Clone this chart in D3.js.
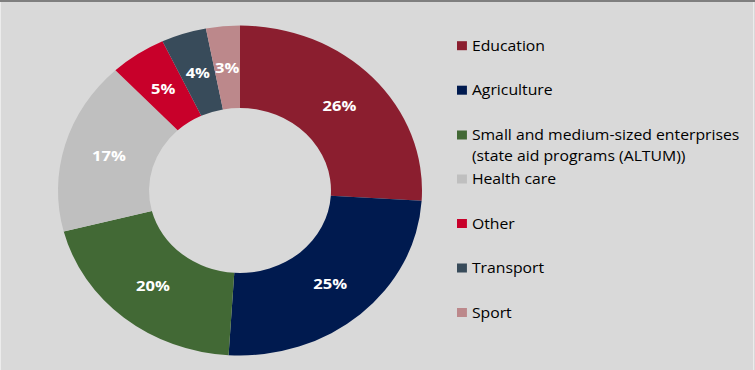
<!DOCTYPE html>
<html>
<head>
<meta charset="utf-8">
<script src="https://cdn.jsdelivr.net/npm/d3@7"></script>
<style>
  html, body { margin: 0; padding: 0; background: #d9d9d9; }
  svg { display: block; }
</style>
</head>
<body>
<svg id="chart" width="755" height="370"></svg>
<script>
// Sector shares, clockwise from 12 o'clock
const categories = ["Education", "Agriculture", "Small and medium-sized enterprises (state aid programs (ALTUM))", "Health care", "Other", "Transport", "Sport"];
const legendLines = [["Education"], ["Agriculture"], ["Small and medium-sized enterprises", "(state aid programs (ALTUM))"], ["Health care"], ["Other"], ["Transport"], ["Sport"]];
const shares = [26, 25, 20, 17, 5, 4, 3];
const colors = ["#8b1e2f", "#001a4f", "#426935", "#bfbfbf", "#c8002a", "#384b5a", "#bc888b"];

const W = 755, H = 370;
const svg = d3.select("#chart");
const stretchX = 182 / 165;
const font = "'Open Sans', 'DejaVu Sans', sans-serif";

// background and frame
svg.append("rect").attr("width", W).attr("height", H).attr("fill", "#d9d9d9");
svg.append("rect").attr("x", 0).attr("y", 0).attr("width", W).attr("height", 2).attr("fill", "#7f7f7f");
svg.append("rect").attr("x", 0).attr("y", 2).attr("width", 1).attr("height", H - 2).attr("fill", "#ececec");
svg.append("rect").attr("x", W - 2).attr("y", 2).attr("width", 1).attr("height", H - 2).attr("fill", "#ececec");

// doughnut
const outerR = 165, innerR = 82.5;
const color = d3.scaleOrdinal().domain(categories).range(colors);
const pie = d3.pie().value(d => d.v).sort(null);
const arc = d3.arc().innerRadius(innerR).outerRadius(outerR);
const labelArc = d3.arc().innerRadius((innerR + outerR) / 2).outerRadius((innerR + outerR) / 2);
const data = categories.map((c, i) => ({ c, v: shares[i] }));

const g = svg.append("g").attr("transform", `translate(240,190.5) scale(${stretchX},1)`);
const slices = pie(data);
g.selectAll("path.slice").data(slices).join("path")
  .attr("class", "slice")
  .attr("d", arc)
  .attr("fill", d => color(d.data.c));

g.selectAll("text.val").data(slices).join("text")
  .attr("class", "val")
  .attr("transform", d => `translate(${labelArc.centroid(d)})`)
  .attr("text-anchor", "middle")
  .attr("dy", "0.36em")
  .attr("fill", "#ffffff")
  .attr("font-family", font)
  .attr("font-weight", "bold")
  .attr("font-size", 15)
  .text(d => d.data.v + "%");

// legend
const rowY = [45.7, 90.2, 135, 179, 223.5, 268, 312.5];
const lg = svg.append("g").attr("transform", `translate(457,0) scale(${stretchX},1)`);
const items = lg.selectAll("g.item").data(categories).join("g")
  .attr("class", "item")
  .attr("transform", (d, i) => `translate(0,${rowY[i]})`);
items.append("rect")
  .attr("x", 0).attr("y", -4.5).attr("width", 9).attr("height", 9)
  .attr("fill", d => color(d));
items.each(function(d, i) {
  const t = d3.select(this).append("text")
    .attr("fill", "#000000")
    .attr("font-family", font)
    .attr("font-size", 14.3);
  legendLines[i].forEach((line, j) => {
    t.append("tspan").attr("x", 13.5).attr("dy", j === 0 ? "0.35em" : "21.5").text(line);
  });
});
</script>
</body>
</html>
